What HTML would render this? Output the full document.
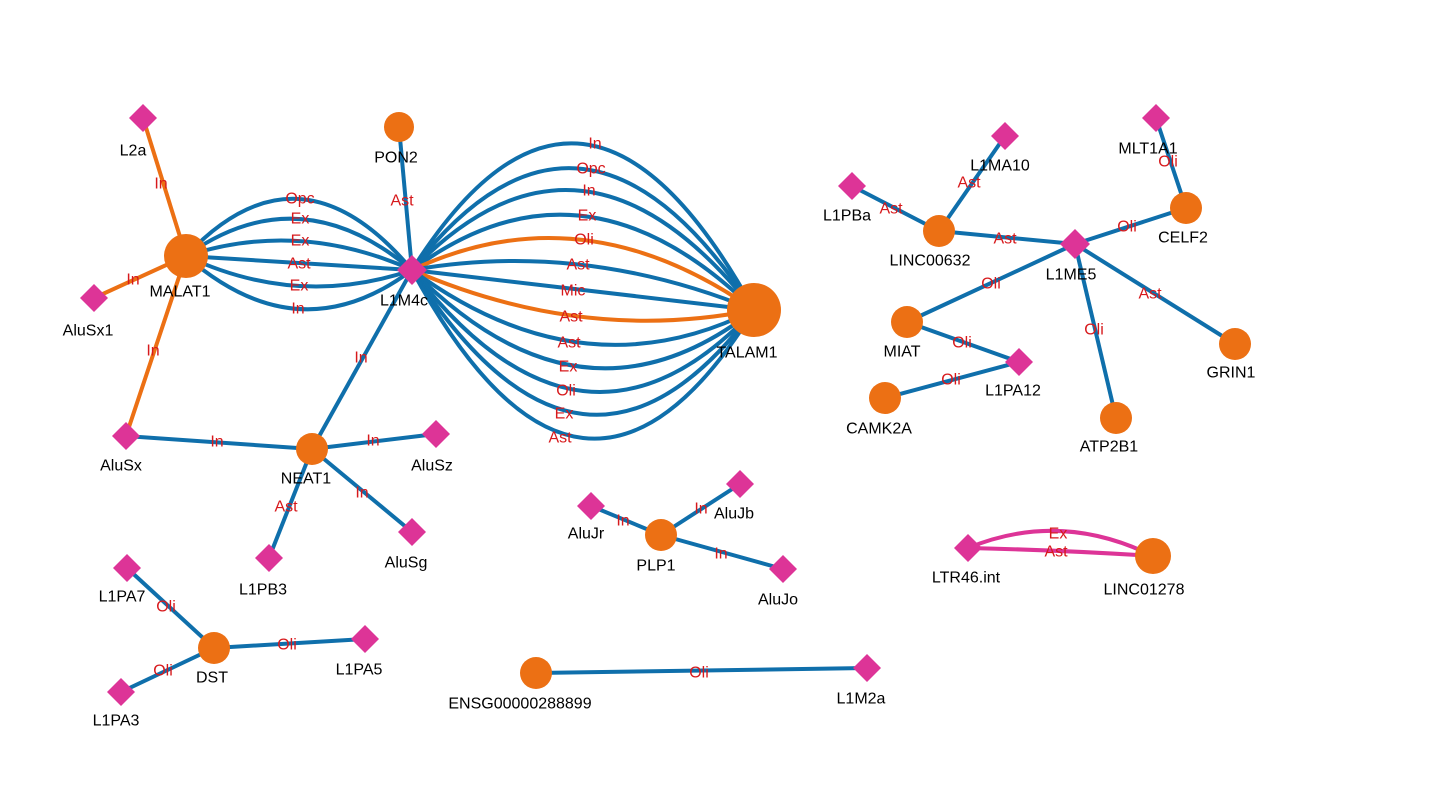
<!DOCTYPE html>
<html><head><meta charset="utf-8"><style>
html,body{margin:0;padding:0;background:#fff;}
svg{display:block;}
.e{fill:none;stroke:#0f6fab;stroke-width:4;}
.o{fill:none;stroke:#ec7014;stroke-width:4;}
.m{fill:none;stroke:#dd3497;stroke-width:4;}
.c{fill:#ec7014;}
.d{fill:#dd3497;}
.el{font-family:"Liberation Sans",sans-serif;font-size:16px;fill:#d7191c;text-anchor:middle;dominant-baseline:central;}
.nl{font-family:"Liberation Sans",sans-serif;font-size:16px;fill:#000;text-anchor:middle;dominant-baseline:central;}
</style></head><body>
<svg width="1440" height="810" viewBox="0 0 1440 810" xmlns="http://www.w3.org/2000/svg">
<line class="o" x1="143" y1="118" x2="186" y2="256"/>
<line class="o" x1="94" y1="298" x2="186" y2="256"/>
<line class="o" x1="126" y1="436" x2="186" y2="256"/>
<path class="e" d="M186 256 Q299 135 412 270"/>
<path class="e" d="M186 256 Q299 175 412 270"/>
<path class="e" d="M186 256 Q299 219 412 270"/>
<line class="e" x1="186" y1="256" x2="412" y2="270"/>
<path class="e" d="M186 256 Q299 309 412 270"/>
<path class="e" d="M186 256 Q299 355 412 270"/>
<line class="e" x1="399" y1="127" x2="412" y2="270"/>
<line class="e" x1="412" y1="270" x2="312" y2="449"/>
<path class="e" d="M412 270 Q583 -2 754 310"/>
<path class="e" d="M412 270 Q583 48 754 310"/>
<path class="e" d="M412 270 Q583 92 754 310"/>
<path class="e" d="M412 270 Q583 142 754 310"/>
<path class="o" d="M412 270 Q583 190 754 310"/>
<path class="e" d="M412 270 Q583 240 754 310"/>
<line class="e" x1="412" y1="270" x2="754" y2="310"/>
<path class="o" d="M412 270 Q583 344 754 310"/>
<path class="e" d="M412 270 Q583 396 754 310"/>
<path class="e" d="M412 270 Q583 444 754 310"/>
<path class="e" d="M412 270 Q583 492 754 310"/>
<path class="e" d="M412 270 Q583 538 754 310"/>
<path class="e" d="M412 270 Q583 586 754 310"/>
<line class="e" x1="126" y1="436" x2="312" y2="449"/>
<line class="e" x1="312" y1="449" x2="436" y2="434"/>
<line class="e" x1="312" y1="449" x2="412" y2="532"/>
<line class="e" x1="312" y1="449" x2="269" y2="558"/>
<line class="e" x1="591" y1="506" x2="661" y2="535"/>
<line class="e" x1="740" y1="484" x2="661" y2="535"/>
<line class="e" x1="783" y1="569" x2="661" y2="535"/>
<line class="e" x1="127" y1="568" x2="214" y2="648"/>
<line class="e" x1="365" y1="639" x2="214" y2="648"/>
<line class="e" x1="121" y1="692" x2="214" y2="648"/>
<line class="e" x1="536" y1="673" x2="867" y2="668"/>
<path class="m" d="M968 548 Q1060 510 1153 556"/>
<path class="m" d="M968 548 Q1060 550 1153 556"/>
<line class="e" x1="1005" y1="136" x2="939" y2="231"/>
<line class="e" x1="852" y1="186" x2="939" y2="231"/>
<line class="e" x1="939" y1="231" x2="1075" y2="244"/>
<line class="e" x1="1156" y1="118" x2="1186" y2="208"/>
<line class="e" x1="1186" y1="208" x2="1075" y2="244"/>
<line class="e" x1="907" y1="322" x2="1075" y2="244"/>
<line class="e" x1="1075" y1="244" x2="1116" y2="418"/>
<line class="e" x1="1075" y1="244" x2="1235" y2="344"/>
<line class="e" x1="907" y1="322" x2="1019" y2="362"/>
<line class="e" x1="885" y1="398" x2="1019" y2="362"/>
<g class="c">
<circle cx="186" cy="256" r="22"/><circle cx="399" cy="127" r="15"/><circle cx="754" cy="310" r="27"/>
<circle cx="312" cy="449" r="16"/><circle cx="661" cy="535" r="16"/><circle cx="1153" cy="556" r="18"/>
<circle cx="214" cy="648" r="16"/><circle cx="536" cy="673" r="16"/>
<circle cx="939" cy="231" r="16"/><circle cx="1186" cy="208" r="16"/><circle cx="907" cy="322" r="16"/>
<circle cx="885" cy="398" r="16"/><circle cx="1116" cy="418" r="16"/><circle cx="1235" cy="344" r="16"/>
</g>
<g class="d">
<path d="M143 104l14 14-14 14-14-14z"/><path d="M94 284l14 14-14 14-14-14z"/><path d="M126 422l14 14-14 14-14-14z"/>
<path d="M412 255l15 15-15 15-15-15z"/><path d="M436 420l14 14-14 14-14-14z"/><path d="M412 518l14 14-14 14-14-14z"/>
<path d="M269 544l14 14-14 14-14-14z"/><path d="M591 492l14 14-14 14-14-14z"/><path d="M740 470l14 14-14 14-14-14z"/>
<path d="M783 555l14 14-14 14-14-14z"/><path d="M968 534l14 14-14 14-14-14z"/><path d="M127 554l14 14-14 14-14-14z"/>
<path d="M365 625l14 14-14 14-14-14z"/><path d="M121 678l14 14-14 14-14-14z"/><path d="M867 654l14 14-14 14-14-14z"/>
<path d="M1156 104l14 14-14 14-14-14z"/><path d="M1005 122l14 14-14 14-14-14z"/><path d="M852 172l14 14-14 14-14-14z"/>
<path d="M1075 229l15 15-15 15-15-15z"/><path d="M1019 348l14 14-14 14-14-14z"/>
</g>
<g class="nl">
<text x="133" y="151">L2a</text><text x="180" y="292">MALAT1</text><text x="88" y="331">AluSx1</text>
<text x="121" y="466">AluSx</text><text x="396" y="158">PON2</text><text x="404" y="301">L1M4c</text>
<text x="747" y="353">TALAM1</text><text x="306" y="479">NEAT1</text><text x="432" y="466">AluSz</text>
<text x="406" y="563">AluSg</text><text x="263" y="590">L1PB3</text><text x="586" y="534">AluJr</text>
<text x="734" y="514">AluJb</text><text x="656" y="566">PLP1</text><text x="778" y="600">AluJo</text>
<text x="966" y="578">LTR46.int</text><text x="1144" y="590">LINC01278</text><text x="122" y="597">L1PA7</text>
<text x="212" y="678">DST</text><text x="359" y="670">L1PA5</text><text x="116" y="721">L1PA3</text>
<text x="520" y="704">ENSG00000288899</text><text x="861" y="699">L1M2a</text>
<text x="1148" y="149">MLT1A1</text><text x="1000" y="166">L1MA10</text><text x="847" y="216">L1PBa</text>
<text x="930" y="261">LINC00632</text><text x="1071" y="275">L1ME5</text><text x="1183" y="238">CELF2</text>
<text x="902" y="352">MIAT</text><text x="1013" y="391">L1PA12</text><text x="879" y="429">CAMK2A</text>
<text x="1109" y="447">ATP2B1</text><text x="1231" y="373">GRIN1</text>
</g>
<g class="el">
<text x="161" y="184">In</text><text x="133" y="280">In</text><text x="153" y="351">In</text>
<text x="300" y="199">Opc</text><text x="300" y="219">Ex</text><text x="300" y="241">Ex</text>
<text x="299" y="264">Ast</text><text x="299" y="286">Ex</text><text x="298" y="309">In</text>
<text x="402" y="201">Ast</text><text x="361" y="358">In</text>
<text x="595" y="144">In</text><text x="591" y="169">Opc</text><text x="589" y="191">In</text>
<text x="587" y="216">Ex</text><text x="584" y="240">Oli</text><text x="578" y="265">Ast</text>
<text x="573" y="291">Mic</text><text x="571" y="317">Ast</text><text x="569" y="343">Ast</text>
<text x="568" y="367">Ex</text><text x="566" y="391">Oli</text><text x="564" y="414">Ex</text>
<text x="560" y="438">Ast</text>
<text x="217" y="442">In</text><text x="373" y="441">In</text><text x="362" y="493">In</text><text x="286" y="507">Ast</text>
<text x="623" y="521">In</text><text x="701" y="509">In</text><text x="721" y="554">In</text>
<text x="166" y="607">Oli</text><text x="287" y="645">Oli</text><text x="163" y="671">Oli</text>
<text x="699" y="673">Oli</text>
<text x="1058" y="534">Ex</text><text x="1056" y="552">Ast</text>
<text x="969" y="183">Ast</text><text x="891" y="209">Ast</text><text x="1005" y="239">Ast</text>
<text x="1168" y="162">Oli</text><text x="1127" y="227">Oli</text><text x="991" y="284">Oli</text>
<text x="1094" y="330">Oli</text><text x="1150" y="294">Ast</text><text x="962" y="343">Oli</text>
<text x="951" y="380">Oli</text>
</g>
</svg>
</body></html>
